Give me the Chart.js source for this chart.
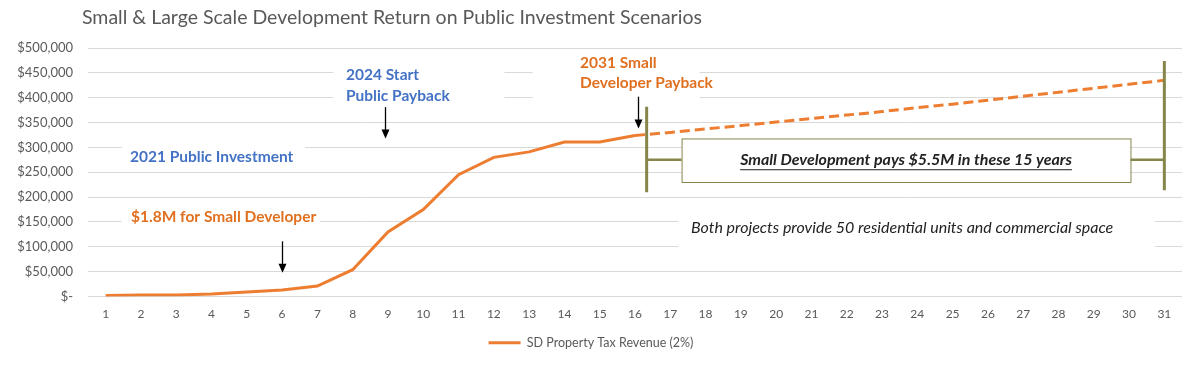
<!DOCTYPE html>
<html>
<head>
<meta charset="utf-8">
<script src="https://cdn.jsdelivr.net/npm/chart.js@4.4.1/dist/chart.umd.min.js"></script>
<style>
  html, body { margin: 0; padding: 0; background: #fff; }
  #wrap { width: 1200px; height: 367px; }
</style>
</head>
<body>
<div id="wrap"><canvas id="chart"></canvas></div>
<script>
const titleText = "Small & Large Scale Development Return on Public Investment Scenarios";
const years = ["1","2","3","4","5","6","7","8","9","10","11","12","13","14","15","16",
  "17","18","19","20","21","22","23","24","25","26","27","28","29","30","31"];
const yTicks = [0, 50000, 100000, 150000, 200000, 250000, 300000, 350000, 400000, 450000, 500000];

// actual revenue, years 1-16
const taxRevenue = [2000, 3000, 3000, 5000, 9000, 13000, 21000, 54000, 130000, 175000,
  245000, 280000, 291000, 311000, 311000, 324000,
  null, null, null, null, null, null, null, null, null, null, null, null, null, null, null];
// projected revenue, years 16-31
const projected = [null, null, null, null, null, null, null, null, null, null, null, null, null, null, null,
  324000, 330000, 337000, 344000, 351000, 358000, 365000, 372000, 380000, 387000,
  395000, 403000, 411000, 419000, 427000, 435000];

const ORANGE = "#ED7D31";
const ORANGE_TXT = "#E0701F";
const BLUE = "#4472C4";
const OLIVE = "#86864A";
const GRAY = "#595959";
const FONT = "Lato, 'Liberation Sans', sans-serif";

// annotations in chart units (x = year label, y = dollars)
const notes = [
  { text: "2021 Public Investment", x: 1.69, y: 280000, color: BLUE },
  { text: "$1.8M for Small Developer", x: 1.72, y: 159000, color: ORANGE_TXT },
  { text: "2024 Start", x: 7.81, y: 445000, color: BLUE },
  { text: "Public Payback", x: 7.81, y: 403000, color: BLUE },
  { text: "2031 Small", x: 14.44, y: 469000, color: ORANGE_TXT },
  { text: "Developer Payback", x: 14.44, y: 429000, color: ORANGE_TXT },
];
const whiteBoxes = [
  { x0: 1.47, x1: 6.65, y0: 315000, y1: 255000 },
  { x0: 1.45, x1: 7.07, y0: 184000, y1: 126000 },
  { x0: 7.45, x1: 12.3, y0: 475000, y1: 385000 },
  { x0: 13.1, x1: 17.83, y0: 487000, y1: 385000 },
  { x0: 17.22, x1: 30.74, y0: 184000, y1: 77000 },
];
const arrows = [
  { x: 6.01, y0: 111000, y1: 48000 },
  { x: 8.92, y0: 381000, y1: 318000 },
  { x: 16.08, y0: 402000, y1: 338000 },
];

const notesPlugin = {
  id: "notes",
  beforeDatasetsDraw(chart) {
    const { ctx, scales } = chart;
    const X = v => scales.x.getPixelForValue(v - 1);
    const Y = v => scales.y.getPixelForValue(v);
    ctx.save();
    ctx.fillStyle = "#fff";
    whiteBoxes.forEach(b => {
      ctx.fillRect(X(b.x0), Y(b.y0), X(b.x1) - X(b.x0), Y(b.y1) - Y(b.y0));
    });
    ctx.font = "bold 15.5px " + FONT;
    ctx.textBaseline = "middle";
    ctx.textAlign = "left";
    notes.forEach(n => {
      ctx.fillStyle = n.color;
      ctx.fillText(n.text, X(n.x), Y(n.y));
    });
    // summary box
    const bx0 = X(17.32), bx1 = X(30.04), by0 = Y(318000), by1 = Y(230400);
    ctx.fillStyle = "#fff";
    ctx.fillRect(bx0, by0, bx1 - bx0, by1 - by0);
    ctx.strokeStyle = OLIVE;
    ctx.lineWidth = 1;
    ctx.strokeRect(bx0 + 0.5, by0 + 0.5, bx1 - bx0, by1 - by0);
    ctx.fillStyle = "#222";
    ctx.textAlign = "center";
    ctx.font = "italic bold 16px " + FONT;
    const msg = "Small Development pays $5.5M in these 15 years";
    const cx = (bx0 + bx1) / 2, cy = (by0 + by1) / 2;
    ctx.fillText(msg, cx, cy);
    const w = ctx.measureText(msg).width;
    ctx.fillRect(cx - w / 2, cy + 9, w, 1);
    ctx.font = "italic 16px " + FONT;
    ctx.fillText("Both projects provide 50 residential units and commercial space", X(23.57), Y(139000));
    ctx.restore();
  },
  afterDatasetsDraw(chart) {
    const { ctx, scales } = chart;
    const X = v => scales.x.getPixelForValue(v - 1);
    const Y = v => scales.y.getPixelForValue(v);
    ctx.save();
    // payback period brackets
    ctx.strokeStyle = OLIVE;
    ctx.lineCap = "butt";
    ctx.lineWidth = 3;
    ctx.beginPath();
    ctx.moveTo(X(16.33), Y(381600)); ctx.lineTo(X(16.33), Y(210000));
    ctx.moveTo(X(31), Y(474000)); ctx.lineTo(X(31), Y(213700));
    ctx.stroke();
    ctx.lineWidth = 2.5;
    ctx.beginPath();
    ctx.moveTo(X(16.33), Y(275000)); ctx.lineTo(X(17.32), Y(275000));
    ctx.moveTo(X(30.04), Y(275000)); ctx.lineTo(X(31), Y(275000));
    ctx.stroke();
    // arrows
    ctx.strokeStyle = "#000";
    ctx.fillStyle = "#000";
    ctx.lineWidth = 1.3;
    arrows.forEach(a => {
      const x = Math.round(X(a.x)) + 0.5, y0 = Y(a.y0), y1 = Y(a.y1);
      ctx.beginPath();
      ctx.moveTo(x, y0); ctx.lineTo(x, y1 - 7);
      ctx.stroke();
      ctx.beginPath();
      ctx.moveTo(x - 4, y1 - 9); ctx.lineTo(x + 4, y1 - 9); ctx.lineTo(x, y1);
      ctx.closePath();
      ctx.fill();
    });
    ctx.restore();
  },
  afterDraw(chart) {
    const ctx = chart.ctx;
    ctx.save();
    ctx.fillStyle = GRAY;
    ctx.font = "19.5px " + FONT;
    ctx.textBaseline = "middle";
    ctx.textAlign = "left";
    ctx.fillText(titleText, 82, 18);
    ctx.restore();
  }
};

new Chart(document.getElementById("chart"), {
  type: "line",
  data: {
    labels: years,
    datasets: [
      {
        label: "SD Property Tax Revenue (2%)",
        data: taxRevenue,
        borderColor: ORANGE,
        backgroundColor: ORANGE,
        borderWidth: 3,
        pointRadius: 0,
        tension: 0,
        spanGaps: false,
      },
      {
        label: "projection",
        data: projected,
        borderColor: ORANGE,
        backgroundColor: ORANGE,
        borderWidth: 3,
        borderDash: [10, 5],
        pointRadius: 0,
        tension: 0,
      },
    ],
  },
  options: {
    responsive: true,
    maintainAspectRatio: false,
    animation: false,
    layout: { padding: { top: 48, right: 18, left: 0, bottom: 8 } },
    plugins: {
      title: { display: false },
      tooltip: { enabled: false },
      legend: {
        position: "bottom",
        labels: {
          color: GRAY,
          font: { family: FONT, size: 12.5 },
          boxWidth: 32,
          boxHeight: 3,
          padding: 10,
          generateLabels: chart => [{
            text: chart.data.datasets[0].label,
            fillStyle: ORANGE,
            strokeStyle: ORANGE,
            lineWidth: 0,
            fontColor: GRAY,
            datasetIndex: 0,
          }],
        },
      },
    },
    scales: {
      x: {
        offset: true,
        grid: { display: false, drawTicks: false },
        border: { display: false },
        ticks: {
          color: GRAY,
          font: { family: FONT, size: 12 },
          padding: 10,
          maxRotation: 0,
          autoSkip: false,
        },
        afterFit: s => { s.height = 30; },
      },
      y: {
        min: 0,
        max: 500000,
        afterBuildTicks: s => { s.ticks = yTicks.map(v => ({ value: v })); },
        grid: { color: "#D9D9D9", lineWidth: 1, drawTicks: false },
        border: { display: false },
        ticks: {
          color: GRAY,
          font: { family: FONT, size: 13 },
          padding: 15,
          callback: v => v === 0 ? "$-" : "$" + v.toLocaleString("en-US"),
        },
        afterFit: s => { s.width = 88; },
      },
    },
  },
  plugins: [notesPlugin],
});
</script>
</body>
</html>
